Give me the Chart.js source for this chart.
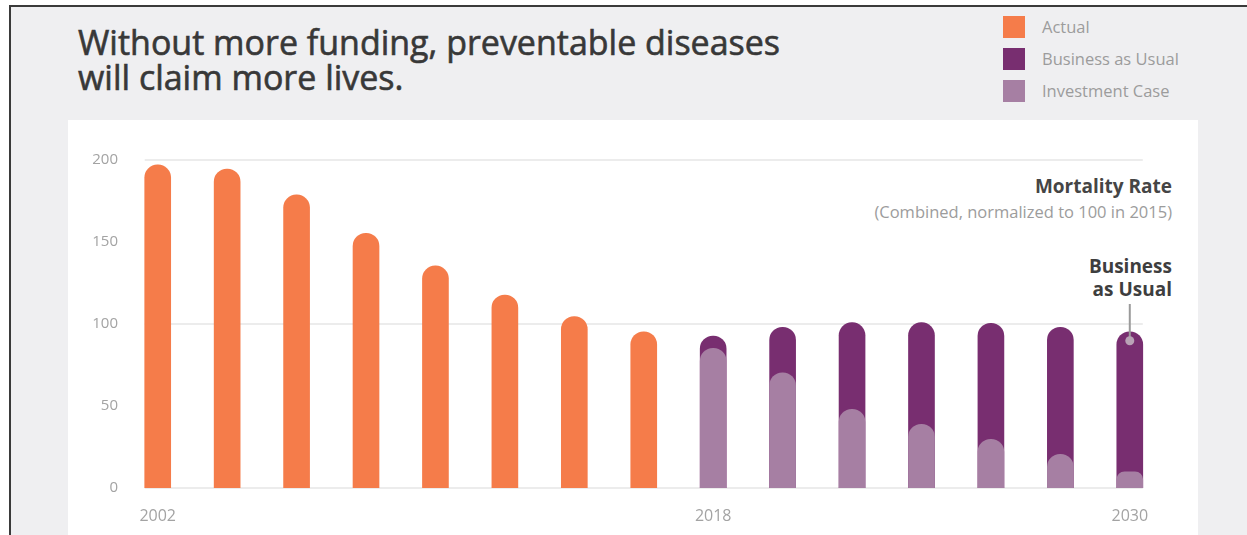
<!DOCTYPE html>
<html>
<head>
<meta charset="utf-8">
<script src="https://cdn.jsdelivr.net/npm/chart.js@4.4.1/dist/chart.umd.min.js"></script>
<style>
  html, body { margin: 0; padding: 0; background: #ffffff; }
  body { width: 1247px; height: 535px; position: relative; overflow: hidden; font-family: "Open Sans", "Noto Sans", sans-serif; }
  #frame { position: absolute; left: 9px; top: 5px; right: 0; bottom: 0; background: #efeff1; border-top: 2px solid #3a3a3a; border-left: 2px solid #3a3a3a; }
  #panel { position: absolute; left: 68px; top: 120px; width: 1130px; bottom: 0; background: #ffffff; }
  #title { position: absolute; left: 78px; top: 25px; font-size: 34px; line-height: 35px; color: #383838; font-weight: 400; -webkit-text-stroke: 0.6px #383838; white-space: nowrap; transform-origin: 0 0; }
  .leg { position: absolute; left: 1003px; height: 22px; }
  .leg .sw { position: absolute; left: 0; top: 0; width: 22px; height: 22px; }
  .leg .lt { position: absolute; left: 39px; top: 0; line-height: 22px; font-size: 16.5px; color: #9c9c9c; white-space: nowrap; }
  .ann { position: absolute; right: 75px; text-align: right; white-space: nowrap; }
  #c { position: absolute; left: 0; top: 0; }
</style>
</head>
<body>
<div id="frame"></div>
<div id="panel"></div>
<div id="title">Without more funding, preventable diseases<br>will claim more lives.</div>
<div class="leg" style="top:16px"><div class="sw" style="background:#f57c4a"></div><div class="lt">Actual</div></div>
<div class="leg" style="top:48px"><div class="sw" style="background:#782e70"></div><div class="lt">Business as Usual</div></div>
<div class="leg" style="top:80px"><div class="sw" style="background:#a67fa3"></div><div class="lt">Investment Case</div></div>
<div class="ann" style="top:174px; font-size:19px; line-height:24px; font-weight:700; color:#454545;">Mortality Rate</div>
<div class="ann" style="top:201px; font-size:16.5px; line-height:22px; color:#9c9c9c;">(Combined, normalized to 100 in 2015)</div>
<div class="ann" style="top:255px; font-size:19px; line-height:23px; font-weight:700; color:#3e3e3e;">Business<br>as Usual</div>
<canvas id="c" width="1247" height="535"></canvas>
<script>
const years = ['2002','2004','2006','2008','2010','2012','2014','2016','2018','2020','2022','2024','2026','2028','2030'];
const shownYears = ['2002','2018','2030'];
const actual = [197, 194.5, 178.7, 155.3, 135.4, 117.7, 104.5, 95.3, null, null, null, null, null, null, null];
const businessAsUsual = [null, null, null, null, null, null, null, null, 92.7, 98, 100.8, 100.8, 100.4, 98, 95.3];
const investmentCase = [null, null, null, null, null, null, null, null, 85.2, 70.3, 48, 38.8, 29.7, 20.5, 9.9];
const gridValues = [0, 100, 200];

// fit title to reference width
(function () {
  const t = document.getElementById('title');
  const w = t.getBoundingClientRect().width;
  t.style.transform = 'scaleX(' + (702 / w) + ')';
})();

const BAR_W = 26;
const radius = {topLeft: 13, topRight: 13, bottomLeft: 0, bottomRight: 0};

const decor = {
  id: 'decor',
  beforeDatasetsDraw(chart) {
    const {ctx, scales: {x, y}} = chart;
    const x0 = x.getPixelForValue(0) - BAR_W / 2;
    const x1 = x.getPixelForValue(years.length - 1) + BAR_W / 2;
    ctx.save();
    ctx.strokeStyle = '#ececec';
    ctx.lineWidth = 2;
    gridValues.forEach(v => {
      const py = Math.round(y.getPixelForValue(v));
      ctx.beginPath(); ctx.moveTo(x0, py); ctx.lineTo(x1, py); ctx.stroke();
    });
    ctx.restore();
  },
  afterDatasetsDraw(chart) {
    const {ctx, scales: {x, y}} = chart;
    const i = years.length - 1;
    const px = x.getPixelForValue(i);
    const py = y.getPixelForValue(businessAsUsual[i]) + 9;
    ctx.save();
    ctx.strokeStyle = '#9a9a9a';
    ctx.lineWidth = 2;
    ctx.beginPath(); ctx.moveTo(px, 304); ctx.lineTo(px, py); ctx.stroke();
    ctx.fillStyle = '#b9a2b6';
    ctx.beginPath(); ctx.arc(px, py, 4.5, 0, Math.PI * 2); ctx.fill();
    ctx.restore();
  }
};

new Chart(document.getElementById('c'), {
  type: 'bar',
  data: {
    labels: years,
    datasets: [
      {label: 'Actual', data: actual, backgroundColor: '#f57c4a', order: 2},
      {label: 'Business as Usual', data: businessAsUsual, backgroundColor: '#782e70', order: 1},
      {label: 'Investment Case', data: investmentCase, backgroundColor: '#a67fa3', order: 0}
    ]
  },
  options: {
    responsive: false,
    animation: false,
    layout: {padding: {left: 0, right: 82.5, top: 160, bottom: 0}},
    datasets: {bar: {grouped: false, barThickness: BAR_W, borderRadius: radius, borderSkipped: 'start'}},
    plugins: {legend: {display: false}, tooltip: {enabled: false}},
    scales: {
      x: {
        type: 'category',
        offset: true,
        grid: {display: false, drawTicks: false},
        border: {display: false},
        afterFit(s) { s.height = 47; },
        ticks: {
          autoSkip: false, maxRotation: 0, padding: 19,
          color: '#a3a3a3', font: {family: 'Open Sans', size: 16},
          callback(v) { const l = this.getLabelForValue(v); return shownYears.includes(l) ? l : ''; }
        }
      },
      y: {
        min: 0, max: 200,
        grid: {display: false, drawTicks: false},
        border: {display: false},
        afterFit(s) { s.width = 123; },
        ticks: {stepSize: 50, padding: 5, color: '#a3a3a3', font: {family: 'Open Sans', size: 15}}
      }
    }
  },
  plugins: [decor]
});
</script>
</body>
</html>
